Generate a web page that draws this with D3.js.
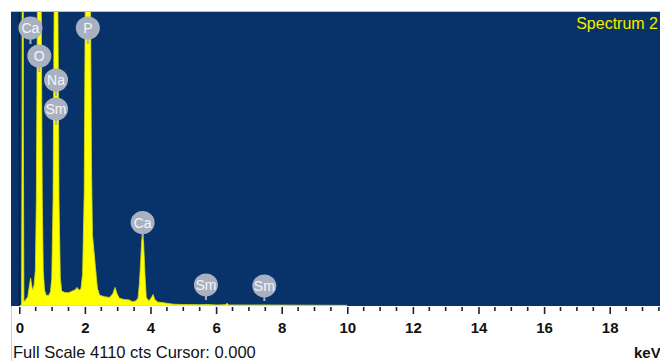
<!DOCTYPE html>
<html>
<head>
<meta charset="utf-8">
<script src="https://cdn.jsdelivr.net/npm/d3@7"></script>
<style>
  html, body { margin: 0; padding: 0; background: #ffffff; }
  svg { display: block; }
</style>
</head>
<body>
<svg id="chart" width="660" height="361"></svg>
<script>
// EDS spectrum: energy (keV) and counts
const spectrumKeV = [
  0.00, 0.07, 0.085, 0.105, 0.125, 0.14, 0.20, 0.26, 0.30, 0.345, 0.38, 0.41, 0.45,
  0.49, 0.52, 0.555, 0.61, 0.665, 0.70, 0.73, 0.77, 0.82, 0.90, 0.95,
  0.99, 1.03, 1.07, 1.12, 1.17, 1.21, 1.25, 1.29, 1.38, 1.50, 1.62, 1.70, 1.76, 1.82, 1.88, 1.93,
  1.98, 2.025, 2.09, 2.155, 2.20, 2.23, 2.27, 2.32, 2.38, 2.45, 2.60, 2.75, 2.85, 2.92, 2.98,
  3.05, 3.20, 3.35, 3.45, 3.55, 3.62, 3.66, 3.70, 3.73, 3.76, 3.79, 3.83, 3.87, 3.95,
  4.03, 4.08, 4.13, 4.22, 4.40, 4.55, 4.70, 5.00, 5.50, 5.70, 6.00, 6.28, 6.33, 6.38,
  7.00, 7.50, 8.00, 8.50, 9.00, 9.50, 9.98, 10.00
];
const spectrumCts = [
  0, 20, 2500, 20000, 2500, 60, 90, 130, 260, 390, 280, 220, 290,
  500, 1500, 4500, 9000, 4500, 1500, 500, 220, 150, 150, 200,
  380, 1500, 4800, 8500, 4800, 1500, 400, 210, 190, 185, 210, 225, 260, 220, 240, 450,
  1600, 5500, 13000, 5500, 2000, 1000, 800, 550, 250, 150, 130, 120, 170, 260, 170,
  110, 90, 85, 60, 70, 110, 300, 620, 900, 1020, 880, 450, 120, 70,
  120, 160, 90, 55, 45, 35, 25, 20, 18, 22, 15, 18, 40, 15,
  14, 15, 13, 12, 11, 10, 9, 0
];

// Element markers: symbol, line energy (keV), marker height (counts)
const markerNames = ["Ca", "O", "Na", "Sm", "P", "Ca", "Sm", "Sm"];
const markerKeV   = [0.34, 0.61, 1.12, 1.12, 2.09, 3.76, 5.69, 7.47];
const markerCts   = [6000, 9000, 8500, 8500, 13000, 970, 98, 84];

// Axis
const tickLabels = [0, 2, 4, 6, 8, 10, 12, 14, 16, 18];
const fullScale = 4110;
const cursorKeV = 0.0;
const spectrumName = "Spectrum 2";

const svg = d3.select("#chart");
const plot = { left: 11, right: 660, top: 12, bottom: 306 };

const x = d3.scaleLinear().domain([0, 20]).range([19.3, 19.3 + 20 * 32.8]);
const y = d3.scaleLinear().domain([0, fullScale]).range([plot.bottom, plot.top]);

// background panel
svg.append("rect")
  .attr("x", plot.left).attr("y", plot.top)
  .attr("width", plot.right - plot.left).attr("height", plot.bottom - plot.top)
  .attr("fill", "#07336a");

svg.append("line")
  .attr("x1", plot.left).attr("x2", plot.right)
  .attr("y1", plot.top - 0.5).attr("y2", plot.top - 0.5)
  .attr("stroke", "#b8c0cc").attr("stroke-width", 1);

svg.append("line")
  .attr("x1", plot.left + 0.5).attr("x2", plot.left + 0.5)
  .attr("y1", plot.bottom).attr("y2", 361)
  .attr("stroke", "#cfcfcf").attr("stroke-width", 1);

const defs = svg.append("defs");
defs.append("clipPath").attr("id", "plotClip")
  .append("rect")
  .attr("x", plot.left).attr("y", plot.top)
  .attr("width", plot.right - plot.left).attr("height", plot.bottom - plot.top);

const soft = defs.append("filter").attr("id", "soft")
  .attr("x", "-30%").attr("y", "-30%").attr("width", "160%").attr("height", "160%");
soft.append("feGaussianBlur").attr("stdDeviation", 0.6);

// spectrum
const points = spectrumKeV.map((e, i) => [e, spectrumCts[i]]);
const area = d3.area()
  .x(d => x(d[0]))
  .y0(y(0))
  .y1(d => y(d[1]));

const g = svg.append("g").attr("clip-path", "url(#plotClip)");
g.append("path")
  .datum(points)
  .attr("d", area)
  .attr("fill", "#ffff00")
  .attr("stroke", "#d6e010")
  .attr("stroke-width", 0.8);

// cursor
g.append("line")
  .attr("x1", x(cursorKeV)).attr("x2", x(cursorKeV))
  .attr("y1", plot.top).attr("y2", plot.bottom)
  .attr("stroke", "#1a1a10").attr("stroke-width", 1);

// axis ticks
const axisY = plot.bottom + 1;
const minor = d3.range(0, 20.01, 0.5).filter(v => !tickLabels.includes(v));
const axis = svg.append("g").attr("transform", `translate(0,${axisY})`);
axis.call(d3.axisBottom(x).tickValues(tickLabels).tickSize(7).tickPadding(8).tickFormat(d3.format("d")));
axis.select(".domain").remove();
axis.selectAll(".tick line").attr("stroke", "#222").attr("stroke-width", 1.6);
axis.selectAll(".tick text")
  .attr("fill", "#111")
  .style("font-family", "'Liberation Sans', Arial, sans-serif")
  .style("font-size", "15px")
  .style("font-weight", "bold");
axis.selectAll(".minor")
  .data(minor).enter().append("line")
  .attr("x1", d => x(d)).attr("x2", d => x(d))
  .attr("y1", 0).attr("y2", 4)
  .attr("stroke", "#222").attr("stroke-width", 1.6);

// element marker bubbles
const r = 12;
const topY = plot.top + 16;
const placed = [];
markerNames.forEach((name, i) => {
  const cx = x(markerKeV[i]);
  const tipY = y(Math.min(markerCts[i], fullScale));
  let cy = Math.max(tipY - 14, topY);
  const clamped = tipY - 14 < topY;
  const clash = yy => placed.some(p => Math.hypot(p.cx - cx, p.cy - yy) < 28.5);
  while (clash(cy)) cy += 1;
  placed.push({ name, cx, cy, clamped, tipY });
});

const mg = svg.append("g").attr("clip-path", "url(#plotClip)");
placed.forEach(p => {
  const stemEnd = p.clamped ? p.cy + r + 4 : Math.max(p.tipY, p.cy + r + 3);
  mg.append("line")
    .attr("x1", p.cx).attr("x2", p.cx)
    .attr("y1", p.cy).attr("y2", stemEnd)
    .attr("stroke", "#a9b1c1").attr("stroke-width", 2);
  mg.append("ellipse")
    .attr("cx", p.cx).attr("cy", p.cy)
    .attr("rx", r).attr("ry", 11.5)
    .attr("fill", "#a9b1c1")
    .attr("filter", "url(#soft)");
  mg.append("text")
    .attr("x", p.cx).attr("y", p.cy + 5)
    .attr("text-anchor", "middle")
    .attr("fill", "#f3f5f9")
    .style("font-family", "'Liberation Sans', Arial, sans-serif")
    .style("font-size", "14px")
    .text(p.name);
});

// spectrum name
svg.append("text")
  .attr("x", 658).attr("y", 29)
  .attr("text-anchor", "end")
  .attr("fill", "#f4f000")
  .attr("stroke", "#1a2a10").attr("stroke-width", 0.6)
  .attr("paint-order", "stroke")
  .style("font-family", "'Liberation Sans', Arial, sans-serif")
  .style("font-size", "16px")
  .text(spectrumName);

// status line
svg.append("text")
  .attr("x", 13).attr("y", 358)
  .attr("fill", "#111")
  .style("font-family", "'Liberation Sans', Arial, sans-serif")
  .style("font-size", "16.5px")
  .text(`Full Scale ${fullScale} cts Cursor: ${cursorKeV.toFixed(3)}`);

svg.append("text")
  .attr("x", 634).attr("y", 358)
  .attr("fill", "#111")
  .style("font-family", "'Liberation Sans', Arial, sans-serif")
  .style("font-size", "15px")
  .style("font-weight", "bold")
  .text("keV");
</script>
</body>
</html>
